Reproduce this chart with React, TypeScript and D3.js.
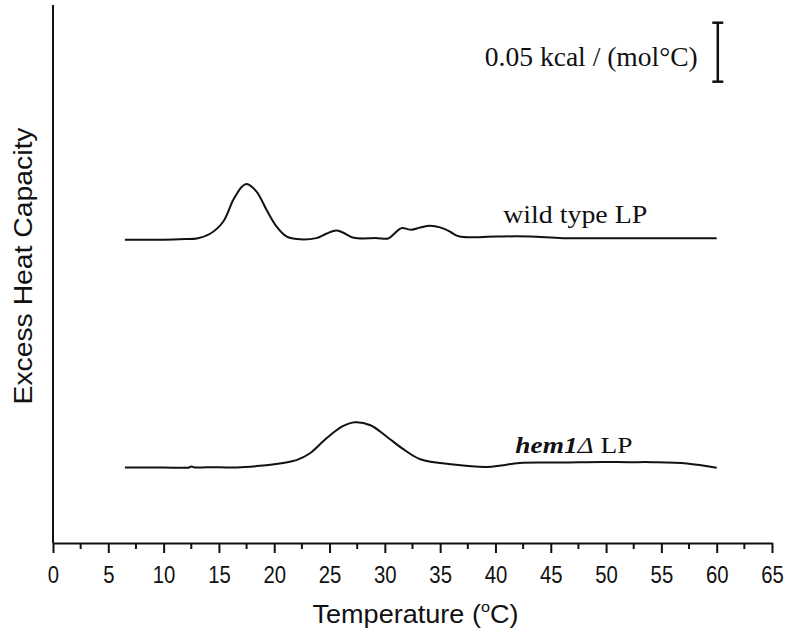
import React, { useRef, useEffect } from 'react';
import * as d3 from 'd3';

// Temperature (°C) and excess heat capacity above each trace's baseline, kcal/(mol°C)
const wildTypeTemp = [6.5, 10, 12, 13, 14.2, 15.4, 16.3, 17.1, 17.5, 18.4, 19.3, 20.2, 21.1, 22.0, 23.8, 24.7, 25.6, 26.2, 27.2, 29.3, 30.3, 30.9, 31.5, 32.4, 33.2, 34.1, 35.0, 35.9, 36.5, 37.1, 40.1, 43.1, 46.1, 50, 55, 60];
const wildTypeCp = [0, 0, 0.0006, 0.0011, 0.0051, 0.0155, 0.0339, 0.0452, 0.0472, 0.0409, 0.0254, 0.0113, 0.0028, 0.0006, 0.0014, 0.0051, 0.0079, 0.0062, 0.0017, 0.0014, 0.0011, 0.0056, 0.0099, 0.0085, 0.0104, 0.0119, 0.0105, 0.0068, 0.0035, 0.0023, 0.0028, 0.0028, 0.0014, 0.0014, 0.0014, 0.0014];

const hemTemp = [6.5, 10, 12.3, 12.5, 12.8, 14, 16.6, 18.7, 20.8, 22.0, 23.2, 24.7, 26.2, 27.3, 28.7, 30.2, 31.7, 33.2, 36.2, 39.2, 40.5, 42.2, 46, 49.7, 52, 54.2, 57.3, 60];
const hemCp = [0, 0, 0, 0.0008, 0, 0.0003, 0, 0.0014, 0.0039, 0.0062, 0.0119, 0.0246, 0.035, 0.0384, 0.0358, 0.0259, 0.0153, 0.007, 0.0025, 0.0005, 0.0017, 0.0039, 0.0042, 0.0047, 0.0045, 0.0045, 0.0034, -0.0003];

// vertical offsets of the stacked traces
const wildTypeOffset = 0.257;
const hemOffset = 0.064;

const xTickValues = [0, 5, 10, 15, 20, 25, 30, 35, 40, 45, 50, 55, 60, 65];
const scaleBarBase = 0.391;
const scaleBarLength = 0.05;

export default function App() {
    const svgRef = useRef(null);
    const width = 789;
    const height = 634;
    const margin = { top: 5, right: 17, bottom: 91, left: 53 };

    useEffect(() => {
        const svg = d3.select(svgRef.current);
        svg.selectAll('*').remove();

        const x = d3.scaleLinear()
            .domain([0, 65])
            .range([margin.left, width - margin.right]);

        const y = d3.scaleLinear()
            .domain([0, 0.456])
            .range([height - margin.bottom, margin.top]);

        const ink = '#111';

        // y axis line (no ticks)
        svg.append('line')
            .attr('x1', x(0)).attr('x2', x(0))
            .attr('y1', y(0)).attr('y2', y(0.456))
            .attr('stroke', ink)
            .attr('stroke-width', 2);

        // x axis
        const xAxis = svg.append('g')
            .attr('transform', `translate(0,${y(0)})`)
            .call(
                d3.axisBottom(x)
                    .tickValues(xTickValues)
                    .tickSize(10)
                    .tickPadding(13)
                    .tickSizeOuter(0)
            );
        xAxis.select('.domain').attr('stroke', ink).attr('stroke-width', 2);
        xAxis.selectAll('.tick line').attr('stroke', ink).attr('stroke-width', 2);
        xAxis.selectAll('.tick text')
            .attr('fill', ink)
            .attr('font-size', 24)
            .attr('font-family', 'Liberation Sans, Arial, sans-serif')
            .attr('textLength', d => String(d).length * 11.3)
            .attr('lengthAdjust', 'spacingAndGlyphs');

        // minor ticks
        svg.append('g')
            .selectAll('line')
            .data(xTickValues.slice(0, -1).map(d => d + 2.5))
            .join('line')
            .attr('x1', d => x(d)).attr('x2', d => x(d))
            .attr('y1', y(0)).attr('y2', y(0) + 6)
            .attr('stroke', ink)
            .attr('stroke-width', 2);

        // axis titles
        const xTitle = svg.append('text')
            .attr('x', (x(0) + x(65)) / 2 + 3)
            .attr('y', height - 11)
            .attr('text-anchor', 'middle')
            .attr('fill', ink)
            .attr('font-size', 25)
            .attr('font-family', 'Liberation Sans, Arial, sans-serif')
            .attr('textLength', 206)
            .attr('lengthAdjust', 'spacingAndGlyphs');
        xTitle.append('tspan').text('Temperature (');
        xTitle.append('tspan').attr('font-size', 15).attr('dy', -11).text('o');
        xTitle.append('tspan').attr('dy', 11).text('C)');

        svg.append('text')
            .attr('transform', `translate(32,${(y(0) + y(0.456)) / 2 - 8}) rotate(-90)`)
            .attr('text-anchor', 'middle')
            .attr('fill', ink)
            .attr('font-size', 25)
            .attr('font-family', 'Liberation Sans, Arial, sans-serif')
            .attr('textLength', 277)
            .attr('lengthAdjust', 'spacingAndGlyphs')
            .text('Excess Heat Capacity');

        // traces
        const line = d3.line()
            .x(d => x(d[0]))
            .y(d => y(d[1]))
            .curve(d3.curveCatmullRom.alpha(0.5));

        const wildType = wildTypeTemp.map((t, i) => [t, wildTypeCp[i] + wildTypeOffset]);
        const hem = hemTemp.map((t, i) => [t, hemCp[i] + hemOffset]);

        [wildType, hem].forEach(series => {
            svg.append('path')
                .datum(series)
                .attr('fill', 'none')
                .attr('stroke', ink)
                .attr('stroke-width', 2)
                .attr('stroke-linejoin', 'round')
                .attr('d', line);
        });

        // trace labels
        svg.append('text')
            .attr('x', x(40.7))
            .attr('y', y(0.271))
            .attr('fill', ink)
            .attr('font-size', 25)
            .attr('font-family', 'Liberation Serif, Times New Roman, serif')
            .attr('textLength', 144)
            .attr('lengthAdjust', 'spacingAndGlyphs')
            .text('wild type LP');

        const hemLabel = svg.append('text')
            .attr('x', x(41.8))
            .attr('y', y(0.076))
            .attr('fill', ink)
            .attr('font-size', 24)
            .attr('font-family', 'Liberation Serif, Times New Roman, serif')
            .attr('textLength', 117)
            .attr('lengthAdjust', 'spacingAndGlyphs');
        hemLabel.append('tspan').attr('font-style', 'italic').attr('font-weight', 'bold').text('hem1');
        hemLabel.append('tspan').attr('font-style', 'italic').text('Δ');
        hemLabel.append('tspan').text(' LP');

        // scale bar
        const barX = x(60.1);
        const capHalf = 5.5;
        const bar = svg.append('g').attr('stroke', ink).attr('stroke-width', 2.5);
        bar.append('line')
            .attr('x1', barX).attr('x2', barX)
            .attr('y1', y(scaleBarBase)).attr('y2', y(scaleBarBase + scaleBarLength));
        [scaleBarBase, scaleBarBase + scaleBarLength].forEach(v => {
            bar.append('line')
                .attr('x1', barX - capHalf).attr('x2', barX + capHalf)
                .attr('y1', y(v)).attr('y2', y(v));
        });

        svg.append('text')
            .attr('x', barX - 20)
            .attr('y', y(scaleBarBase + 0.013))
            .attr('text-anchor', 'end')
            .attr('fill', ink)
            .attr('font-size', 27)
            .attr('font-family', 'Liberation Serif, Times New Roman, serif')
            .attr('textLength', 213)
            .attr('lengthAdjust', 'spacingAndGlyphs')
            .text('0.05 kcal / (mol°C)');
    }, []);

    return (
        <svg
            ref={svgRef}
            width={width}
            height={height}
            style={{ position: 'absolute', left: 0, top: 0, background: '#fff' }}
        />
    );
}
